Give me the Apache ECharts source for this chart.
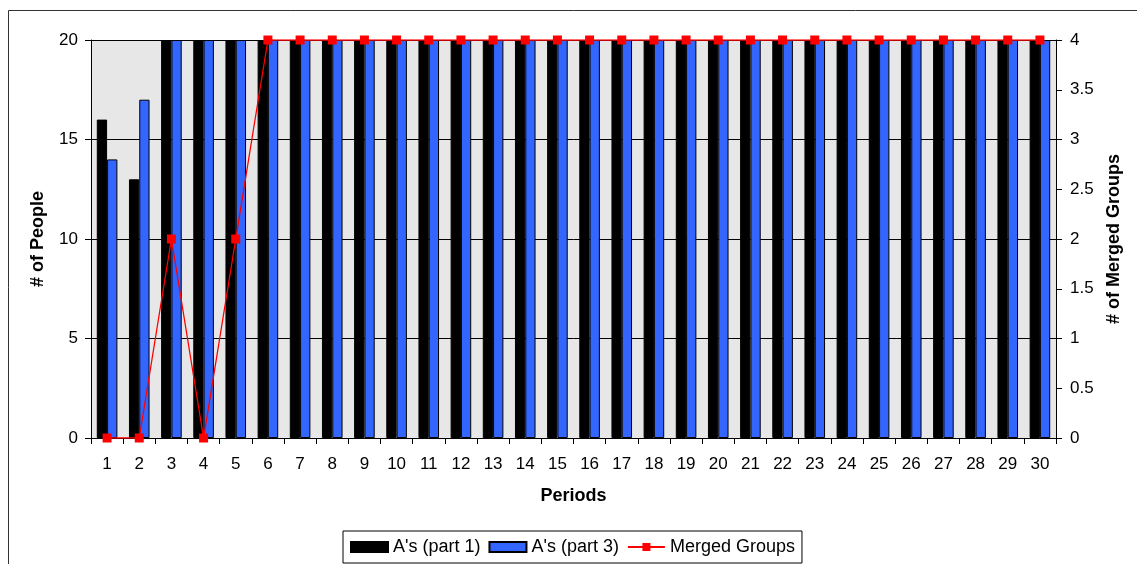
<!DOCTYPE html>
<html>
<head>
<meta charset="utf-8">
<script src="https://cdn.jsdelivr.net/npm/echarts@6/dist/echarts.min.js"></script>
<style>
  html, body { margin: 0; padding: 0; background: #fff; }
  #chart { width: 1137px; height: 564px; }
</style>
</head>
<body>
<div id="chart"></div>
<script>
// Periods 1..30
const periods = ['1','2','3','4','5','6','7','8','9','10','11','12','13','14','15','16','17','18','19','20','21','22','23','24','25','26','27','28','29','30'];
// Number of A's in part 1 and part 3
const part1 = [16,13,20,20,20,20,20,20,20,20,20,20,20,20,20,20,20,20,20,20,20,20,20,20,20,20,20,20,20,20];
const part3 = [14,17,20,20,20,20,20,20,20,20,20,20,20,20,20,20,20,20,20,20,20,20,20,20,20,20,20,20,20,20];
// Number of merged groups
const merged = [0,0,2,0,2,4,4,4,4,4,4,4,4,4,4,4,4,4,4,4,4,4,4,4,4,4,4,4,4,4];

const font = 'Liberation Sans, Arial, sans-serif';
const chart = echarts.init(document.getElementById('chart'), null, { renderer: 'canvas' });

chart.setOption({
  animation: false,
  textStyle: { fontFamily: font, color: '#000' },
  grid: {
    left: 91, right: 81, top: 40, bottom: 126,
    show: true, backgroundColor: '#e7e7e7', borderWidth: 0
  },
  graphic: [{
    type: 'rect', silent: true, z: -10,
    shape: { x: 8.5, y: 10.5, width: 1140, height: 570 },
    style: { fill: 'none', stroke: '#333', lineWidth: 1 }
  }],
  legend: {
    left: 343, top: 531,
    padding: [7, 7, 7, 7],
    borderColor: '#000', borderWidth: 1,
    itemWidth: 37, itemHeight: 10, itemGap: 8,
    textStyle: { fontFamily: font, fontSize: 18, color: '#000' },
    data: [
      { name: "A's (part 1)", icon: 'rect' },
      { name: "A's (part 3)", icon: 'rect' },
      { name: 'Merged Groups' }
    ]
  },
  xAxis: {
    type: 'category', data: periods,
    name: 'Periods', nameLocation: 'middle', nameGap: 49,
    nameTextStyle: { fontFamily: font, fontSize: 18, fontWeight: 'bold', color: '#000' },
    axisLine: { lineStyle: { color: '#000', width: 1 } },
    axisTick: { show: true, alignWithLabel: false, length: 6, lineStyle: { color: '#000' } },
    axisLabel: { fontFamily: font, fontSize: 17, color: '#000', margin: 18, interval: 0 }
  },
  yAxis: [{
    type: 'value', min: 0, max: 20, interval: 5,
    name: '# of People', nameLocation: 'middle', nameGap: 44, nameRotate: 90,
    nameTextStyle: { fontFamily: font, fontSize: 18, fontWeight: 'bold', color: '#000' },
    axisLine: { show: true, lineStyle: { color: '#000' } },
    axisTick: { show: true, length: 6, lineStyle: { color: '#000' } },
    axisLabel: { fontFamily: font, fontSize: 17, color: '#000', margin: 13 },
    splitLine: { show: true, lineStyle: { color: '#000', width: 1 } }
  }, {
    type: 'value', min: 0, max: 4, interval: 0.5, position: 'right',
    name: '# of Merged Groups', nameLocation: 'middle', nameGap: 48, nameRotate: 90,
    nameTextStyle: { fontFamily: font, fontSize: 18, fontWeight: 'bold', color: '#000' },
    axisLine: { show: true, lineStyle: { color: '#000' } },
    axisTick: { show: true, length: 6, lineStyle: { color: '#000' } },
    axisLabel: { fontFamily: font, fontSize: 17, color: '#000', margin: 14 },
    splitLine: { show: false }
  }],
  series: [{
    name: "A's (part 1)", type: 'bar', data: part1,
    barGap: '0%', barCategoryGap: '36%',
    itemStyle: { color: '#000000', borderColor: '#000', borderWidth: 1 }
  }, {
    name: "A's (part 3)", type: 'bar', data: part3,
    itemStyle: { color: '#3366ff', borderColor: '#000', borderWidth: 1 }
  }, {
    name: 'Merged Groups', type: 'line', yAxisIndex: 1, data: merged,
    symbol: 'rect', symbolSize: 9,
    lineStyle: { color: '#ff0000', width: 1.3 },
    itemStyle: { color: '#ff0000' },
    z: 5
  }]
});
</script>
</body>
</html>
